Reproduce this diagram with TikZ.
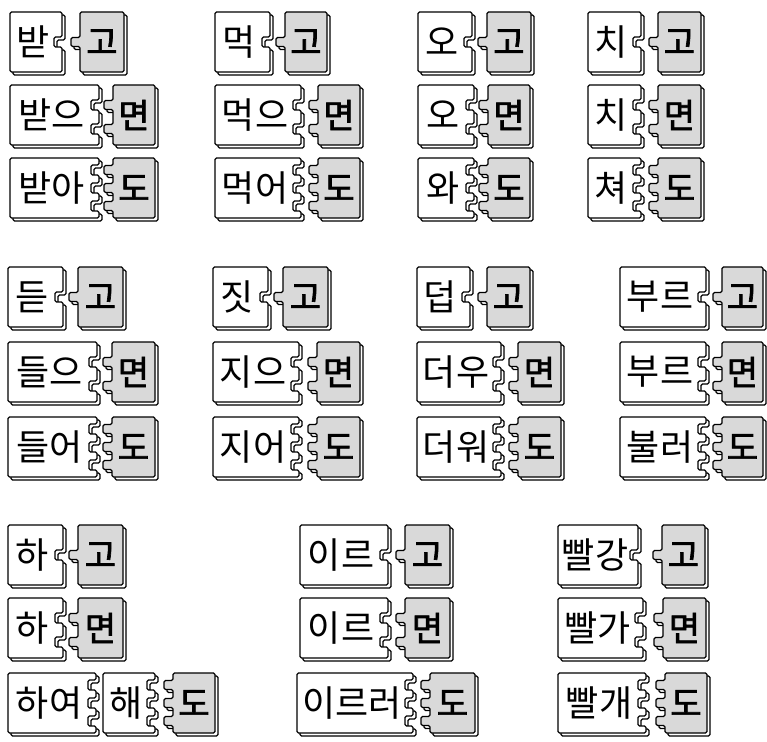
\documentclass[tikz,border=0pt]{standalone}
\usepackage{fontspec}
\newfontfamily\krfont{Noto Sans CJK KR}
\newfontfamily\krbold[FakeBold=2]{Noto Sans CJK KR}
\usetikzlibrary{calc}

\newcommand{\pieceh}{60}

% stem block: name, left, top, width, notch positions, text
\newcommand{\stempiece}[6]{%
  \pgfmathsetmacro{\pL}{#2}\pgfmathsetmacro{\pR}{#2+#4}%
  \pgfmathsetmacro{\pT}{#3}\pgfmathsetmacro{\pB}{#3+\pieceh}%
  \def\stemoutline{(\pL,\pT) -- (\pR,\pT)
    \foreach \o in {#5}{ -- (\pR,\pT+\o-5) -- (\pR-8,\pT+\o-5) -- (\pR-8,\pT+\o+5) -- (\pR,\pT+\o+5)}
    -- (\pR,\pB) -- (\pL,\pB) -- cycle}%
  \draw[piecedrop] \stemoutline;
  \draw[stemface] \stemoutline;
  \node[stemtext] (#1) at ({(\pL+\pR-6)/2},{\pT+\pieceh/2}) {#6};
}

% ending block: name, left, top, width, tab positions, text
\newcommand{\tailpiece}[6]{%
  \pgfmathsetmacro{\pL}{#2}\pgfmathsetmacro{\pR}{#2+#4}%
  \pgfmathsetmacro{\pT}{#3}\pgfmathsetmacro{\pB}{#3+\pieceh}%
  \def\tailoutline{(\pL,\pT)
    \foreach \o in {#5}{ -- (\pL,\pT+\o-4.5) -- (\pL-9,\pT+\o-4.5) -- (\pL-9,\pT+\o+4.5) -- (\pL,\pT+\o+4.5)}
    -- (\pL,\pB) -- (\pR,\pB) -- (\pR,\pT) -- cycle}%
  \draw[piecedrop] \tailoutline;
  \draw[tailface] \tailoutline;
  \node[tailtext] (#1) at ({(\pL+\pR)/2},{\pT+\pieceh/2}) {#6};
}

\begin{document}
\begin{tikzpicture}[
  x=1pt, y=-1pt,
  piecedrop/.style={draw, fill=white, line width=1.3pt, rounded corners=1.5pt, shift={(3,3)}},
  stemface/.style={draw, fill=white, line width=1.2pt, rounded corners=1.5pt},
  tailface/.style={draw, fill=black!15, line width=1.2pt, rounded corners=1.5pt},
  stemtext/.style={inner sep=0pt, font=\krfont\fontsize{36}{36}\selectfont},
  tailtext/.style={inner sep=0pt, font=\krbold\fontsize{34}{34}\selectfont}
]
\useasboundingbox (0,0) rectangle (767,741);

\stempiece{bat}{10}{12}{52}{30}{받}
\tailpiece{batgo}{80}{12}{44}{30}{고}
\stempiece{badeu}{10}{85}{89}{20,44}{받으}
\tailpiece{badmyeon}{113}{85}{42}{20,44}{면}
\stempiece{bada}{10}{158}{89}{12,30,48}{받아}
\tailpiece{badado}{113}{158}{42}{12,30,48}{도}

\stempiece{meok}{215}{12}{55}{30}{먹}
\tailpiece{meokgo}{285}{12}{42}{30}{고}
\stempiece{meogeu}{215}{85}{86}{20,44}{먹으}
\tailpiece{meogmyeon}{318}{85}{42}{20,44}{면}
\stempiece{meogeo}{215}{158}{86}{12,30,48}{먹어}
\tailpiece{meogeodo}{318}{158}{42}{12,30,48}{도}

\stempiece{o}{418}{12}{54}{30}{오}
\tailpiece{ogo}{487}{12}{44}{30}{고}
\stempiece{otwo}{418}{85}{56}{20,44}{오}
\tailpiece{omyeon}{488}{85}{42}{20,44}{면}
\stempiece{wa}{418}{158}{56}{12,30,48}{와}
\tailpiece{wado}{488}{158}{42}{12,30,48}{도}

\stempiece{chi}{588}{12}{53}{30}{치}
\tailpiece{chigo}{658}{12}{43}{30}{고}
\stempiece{chitwo}{588}{85}{53}{20,44}{치}
\tailpiece{chimyeon}{658}{85}{43}{20,44}{면}
\stempiece{chyeo}{588}{158}{53}{12,30,48}{쳐}
\tailpiece{chyeodo}{658}{158}{43}{12,30,48}{도}

\stempiece{deut}{8}{267}{55}{30}{듣}
\tailpiece{deutgo}{78}{267}{45}{30}{고}
\stempiece{deureu}{8}{342}{89}{20,44}{들으}
\tailpiece{deulmyeon}{112}{342}{43}{20,44}{면}
\stempiece{deureo}{8}{417}{89}{12,30,48}{들어}
\tailpiece{deureodo}{112}{417}{43}{12,30,48}{도}

\stempiece{jit}{213}{267}{55}{30}{짓}
\tailpiece{jitgo}{283}{267}{45}{30}{고}
\stempiece{jieu}{213}{342}{86}{20,44}{지으}
\tailpiece{jimyeon}{317}{342}{43}{20,44}{면}
\stempiece{jieo}{213}{417}{86}{12,30,48}{지어}
\tailpiece{jieodo}{317}{417}{43}{12,30,48}{도}

\stempiece{deop}{417}{267}{53}{30}{덥}
\tailpiece{deopgo}{487}{267}{43}{30}{고}
\stempiece{deou}{417}{342}{84}{20,44}{더우}
\tailpiece{deomyeon}{518}{342}{43}{20,44}{면}
\stempiece{deowo}{417}{417}{84}{12,30,48}{더워}
\tailpiece{deowodo}{518}{417}{43}{12,30,48}{도}

\stempiece{bureu}{620}{267}{86}{30}{부르}
\tailpiece{burgo}{722}{267}{41}{30}{고}
\stempiece{bureutwo}{620}{342}{86}{20,44}{부르}
\tailpiece{burmyeon}{722}{342}{41}{20,44}{면}
\stempiece{bulleo}{620}{417}{86}{12,30,48}{불러}
\tailpiece{bulleodo}{722}{417}{41}{12,30,48}{도}

\stempiece{ha}{8}{525}{55}{30}{하}
\tailpiece{hago}{78}{525}{45}{30}{고}
\stempiece{hatwo}{8}{598}{55}{20,44}{하}
\tailpiece{hamyeon}{78}{598}{45}{20,44}{면}
\stempiece{hayeo}{8}{673}{88}{12,30,48}{하여}
\stempiece{hae}{103}{673}{52}{12,30,48}{해}
\tailpiece{haedo}{173}{673}{42}{12,30,48}{도}

\stempiece{ireu}{300}{525}{88}{30}{이르}
\tailpiece{ireugo}{405}{525}{45}{30}{고}
\stempiece{ireutwo}{300}{598}{88}{20,44}{이르}
\tailpiece{ireumyeon}{405}{598}{45}{20,44}{면}
\stempiece{ireureo}{297}{673}{116}{12,30,48}{이르러}
\tailpiece{ireureodo}{430}{673}{45}{12,30,48}{도}

\stempiece{ppalgang}{558}{525}{80}{30}{빨강}
\tailpiece{ppalgo}{662}{525}{43}{30}{고}
\stempiece{ppalga}{558}{598}{85}{20,44}{빨가}
\tailpiece{ppalmyeon}{663}{598}{43}{20,44}{면}
\stempiece{ppalgae}{558}{673}{88}{12,30,48}{빨개}
\tailpiece{ppalgaedo}{665}{673}{42}{12,30,48}{도}
\end{tikzpicture}
\end{document}
